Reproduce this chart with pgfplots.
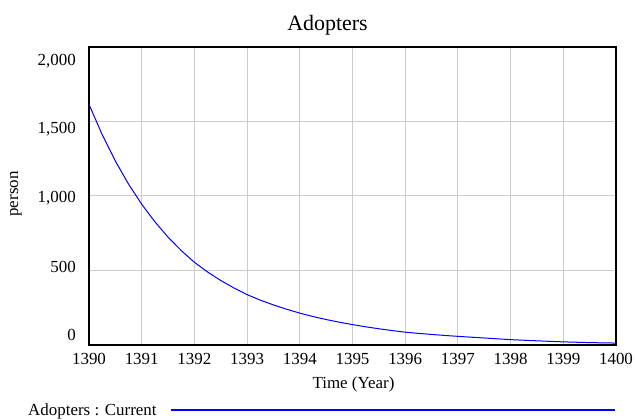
\documentclass[border=0pt]{standalone}
\usepackage{fontspec}
\setmainfont{Liberation Serif}
\usepackage{pgfplots}
\pgfplotsset{compat=1.18}
\definecolor{vblue}{RGB}{0,0,255}
\begin{document}
\begin{tikzpicture}[font=\fontsize{17}{20}\selectfont]
\begin{axis}[
  at={(89bp,75bp)}, anchor=south west,
  width=527bp, height=298bp, scale only axis,
  xmin=1390, xmax=1400, ymin=0, ymax=2000,
  xtick={1390,1391,...,1400}, ytick={0,500,1000,1500,2000},
  yticklabels={},
  major tick length=0pt,
  grid=major,
  major grid style={color=black!20, line width=1bp},
  axis line style={line width=2bp, black},
  x tick label style={/pgf/number format/1000 sep={}, /pgf/number format/assume math mode=true, yshift=-4.3bp},
  clip=true,
]
\addplot[color=vblue, line width=1bp] coordinates {
(1390,1615) (1390.25,1412) (1390.5,1235) (1390.75,1080)
(1391,945) (1391.25,827) (1391.5,724) (1391.75,634)
(1392,555) (1392.25,490) (1392.5,433) (1392.75,383)
(1393,338) (1393.25,301) (1393.5,269) (1393.75,240)
(1394,214) (1394.25,191) (1394.5,171) (1394.75,153)
(1395,137) (1395.25,122) (1395.5,109) (1395.75,97)
(1396,86) (1396.25,78) (1396.5,71) (1396.75,64)
(1397,58) (1397.5,47) (1398,36) (1398.5,28)
(1399,21) (1399.5,16) (1400,13)
};
\end{axis}
% y tick labels
\node[anchor=base east, inner sep=0pt] at (76bp,354.25bp) {2,000};
\node[anchor=base east, inner sep=0pt] at (76bp,286.25bp) {1,500};
\node[anchor=base east, inner sep=0pt] at (76bp,217.25bp) {1,000};
\node[anchor=base east, inner sep=0pt] at (76bp,147.25bp) {500};
\node[anchor=base east, inner sep=0pt] at (76bp,79.25bp) {0};
% title and axis labels
\node[anchor=base, inner sep=0pt, font=\fontsize{22}{26}\selectfont] at (327.5bp,389bp) {Adopters};
\node[anchor=base, inner sep=0pt] at (353.5bp,31.7bp) {Time (Year)};
\node[rotate=90, anchor=center, inner sep=0pt] at (16bp,226bp) {person};
% legend
\node[anchor=base west, inner sep=0pt] at (28bp,4.3bp) {Adopters : Current};
\draw[draw=vblue, line width=1.2bp] (171bp,10bp) -- (615bp,10bp);
\pgfresetboundingbox
\path[use as bounding box] (0,0) rectangle (635bp,420bp);
\end{tikzpicture}
\end{document}
